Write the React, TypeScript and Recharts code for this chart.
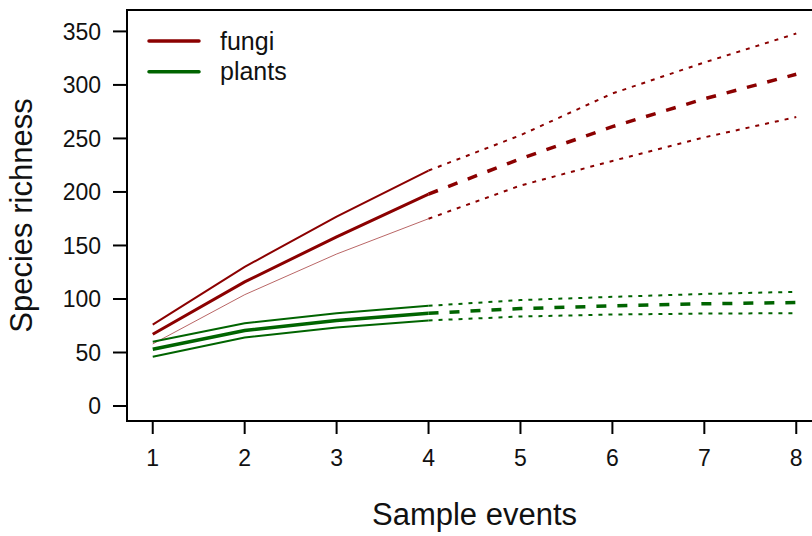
import React from 'react';
import { LineChart, Line, XAxis, YAxis, ReferenceArea, Label } from 'recharts';

const sampleEvents = [1, 2, 3, 4, 5, 6, 7, 8];
const observedUpTo = 4;
const fungiEst = [67, 116, 158, 198, 231, 261, 287, 310];
const fungiUpper = [76, 130, 177, 220, 253, 292, 321, 348];
const fungiLower = [58, 104, 142, 175, 206, 229, 251, 270];
const plantsEst = [53, 70.5, 80, 86.7, 91, 93.6, 95.5, 96.7];
const plantsUpper = [60, 77.4, 86.7, 93.6, 99, 102, 104.7, 106.7];
const plantsLower = [46, 64, 73.3, 80, 83.6, 85.5, 86.4, 86.7];
const yTicks = [0, 50, 100, 150, 200, 250, 300, 350];
const xTicks = [1, 2, 3, 4, 5, 6, 7, 8];

const FUNGI = '#8B0000';
const PLANTS = '#006400';
const FONT = '"Liberation Sans", Arial, Helvetica, sans-serif';

const series: Record<string, number[]> = {
  fEst: fungiEst, fUp: fungiUpper, fLo: fungiLower,
  pEst: plantsEst, pUp: plantsUpper, pLo: plantsLower,
};

const data = sampleEvents.map((x, i) => {
  const row: Record<string, number | null> = { x };
  Object.keys(series).forEach((k) => {
    row[k + 'Obs'] = x <= observedUpTo ? series[k][i] : null;
    row[k + 'Ext'] = x >= observedUpTo ? series[k][i] : null;
  });
  return row;
});

const legendItems = [
  { name: 'fungi', color: FUNGI },
  { name: 'plants', color: PLANTS },
];

const LegendBox = () => (
  <svg width={170} height={70} style={{ position: 'absolute', left: 146, top: 25, display: 'block' }}>
    {legendItems.map((it, i) => (
      <g key={it.name}>
        <line x1={3} x2={53} y1={16 + i * 30.8} y2={16 + i * 30.8} stroke={it.color} strokeWidth={3.5} strokeLinecap="round" />
        <text x={74} y={24.5 + i * 30.8} fontSize={25} fontFamily={FONT} fill="#111">{it.name}</text>
      </g>
    ))}
  </svg>
);

const XTick = (p: any) => (
  <text x={p.x} y={p.y} dy="0.71em" textAnchor="middle" fontSize={23} fontFamily={FONT} fill="#111">
    {p.payload.value}
  </text>
);
const YTick = (p: any) => (
  <text x={p.x} y={p.y} dy="0.355em" textAnchor="end" fontSize={23} fontFamily={FONT} fill="#111">
    {p.payload.value}
  </text>
);

export default function App() {
  const lineCommon = { type: 'linear' as const, dot: false, activeDot: false, isAnimationActive: false, connectNulls: false, legendType: 'none' as const };
  const dotted = '4 6';
  const dashed = '10 11';
  return (
    <div style={{ position: 'fixed', left: 0, top: 0, width: 812, height: 536, overflow: 'hidden', background: '#fff' }}>
      <LineChart width={830} height={536} data={data} margin={{ top: 10, right: 8, left: 0, bottom: 0 }}>
        <XAxis
          dataKey="x"
          type="number"
          domain={[0.72, 8.28]}
          ticks={xTicks}
          allowDataOverflow
          axisLine={false}
          tickLine={{ stroke: '#000', strokeWidth: 2 }}
          tickSize={13}
          tickMargin={16}
          height={115}
          tick={<XTick />}
        >
          <Label
            content={(p: any) => {
              const vb = p.viewBox;
              return (
                <text x={vb.x + vb.width / 2} y={525} textAnchor="middle" fontSize={31} fontFamily={FONT} fill="#111">
                  Sample events
                </text>
              );
            }}
          />
        </XAxis>
        <YAxis
          type="number"
          domain={[-14, 370]}
          ticks={yTicks}
          allowDataOverflow
          axisLine={false}
          tickLine={{ stroke: '#000', strokeWidth: 2 }}
          tickSize={14}
          tickMargin={12}
          width={127}
          tick={<YTick />}
        >
          <Label
            content={(p: any) => {
              const vb = p.viewBox;
              const cy = vb.y + vb.height / 2;
              return (
                <text x={32} y={cy} transform={`rotate(-90, 32, ${cy})`} textAnchor="middle" fontSize={31} fontFamily={FONT} fill="#111">
                  Species richness
                </text>
              );
            }}
          />
        </YAxis>
        <ReferenceArea x1={0.72} x2={8.28} y1={-14} y2={370} fill="none" stroke="#000" strokeWidth={2} />
        {/* fungi observed */}
        <Line {...lineCommon} dataKey="fUpObs" stroke={FUNGI} strokeWidth={2} />
        <Line {...lineCommon} dataKey="fLoObs" stroke={FUNGI} strokeWidth={1} strokeOpacity={0.6} />
        <Line {...lineCommon} dataKey="fEstObs" stroke={FUNGI} strokeWidth={3} />
        {/* fungi extrapolated */}
        <Line {...lineCommon} dataKey="fUpExt" stroke={FUNGI} strokeWidth={2} strokeDasharray={dotted} />
        <Line {...lineCommon} dataKey="fLoExt" stroke={FUNGI} strokeWidth={2} strokeDasharray={dotted} />
        <Line {...lineCommon} dataKey="fEstExt" stroke={FUNGI} strokeWidth={3.5} strokeDasharray={dashed} />
        {/* plants observed */}
        <Line {...lineCommon} dataKey="pUpObs" stroke={PLANTS} strokeWidth={2} />
        <Line {...lineCommon} dataKey="pLoObs" stroke={PLANTS} strokeWidth={2} />
        <Line {...lineCommon} dataKey="pEstObs" stroke={PLANTS} strokeWidth={3.5} />
        {/* plants extrapolated */}
        <Line {...lineCommon} dataKey="pUpExt" stroke={PLANTS} strokeWidth={2} strokeDasharray={dotted} />
        <Line {...lineCommon} dataKey="pLoExt" stroke={PLANTS} strokeWidth={2} strokeDasharray={dotted} />
        <Line {...lineCommon} dataKey="pEstExt" stroke={PLANTS} strokeWidth={3.5} strokeDasharray={dashed} />
      </LineChart>
      <LegendBox />
    </div>
  );
}
